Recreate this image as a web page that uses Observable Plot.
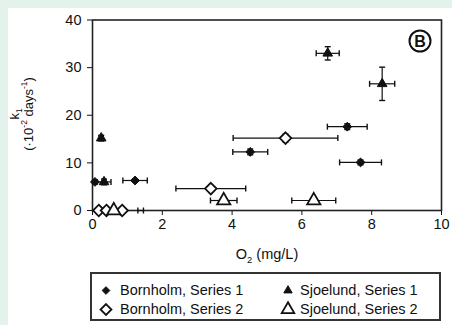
<!DOCTYPE html>
<html>
<head>
<meta charset="utf-8">
<script src="https://cdn.jsdelivr.net/npm/d3@7"></script>
<script src="https://cdn.jsdelivr.net/npm/@observablehq/plot@0.6"></script>
<style>
  body { margin:0; width:452px; height:325px; overflow:hidden; background:#e3f2ea; position:relative;
         font-family:"Liberation Sans", Arial, sans-serif; color:#111; }
  #panel { position:absolute; left:8px; top:8px; right:0; bottom:0; background:#fff; }
  #chart { position:absolute; left:0; top:0; }
  .ylab { position:absolute; white-space:nowrap; transform:translate(-50%,-50%) rotate(-90deg); font-size:13px; line-height:1; }
  #xlab { position:absolute; left:267px; top:254px; transform:translate(-50%,-50%); font-size:14.5px; white-space:nowrap; }
  sub, sup { font-size:65%; line-height:0; }
  #badge { position:absolute; left:420px; top:40.5px; width:19px; height:19px; border:2px solid #111; border-radius:50%;
           transform:translate(-50%,-50%); font-weight:bold; font-size:16px; text-align:center; line-height:19px; }
  #legend { position:absolute; left:90px; top:272px; width:347px; height:45px; border:2px solid #333; background:#fff; font-size:14.5px; }
  .li { position:absolute; display:flex; align-items:center; white-space:nowrap; }
  .li svg { overflow:visible; }
</style>
</head>
<body>
<div id="panel"></div>
<div id="chart"></div>
<div class="ylab" style="left:14px;top:114px">k<sub>1</sub></div>
<div class="ylab" style="left:28px;top:114px">(·10<sup>-2</sup> days<sup>-1</sup>)</div>
<div id="xlab">O<sub>2</sub> (mg/L)</div>
<div id="badge">B</div>
<div id="legend"></div>
<script>
// ---- data: [O2 (mg/L), k1, x error, y error] ----
const seriesNames = ["Bornholm, Series 1", "Bornholm, Series 2", "Sjoelund, Series 1", "Sjoelund, Series 2"];
const bornholm1 = [[0.07, 6.0, 0.03, 0.3], [1.22, 6.3, 0.35, 0.3], [4.52, 12.3, 0.5, 0.6], [7.3, 17.6, 0.57, 0.6], [7.68, 10.1, 0.6, 0.5]];
const bornholm2 = [[0.18, 0, 0, 0], [0.40, 0, 0, 0], [0.85, 0, 0, 0], [3.39, 4.6, 1.0, 0.4], [5.53, 15.2, 1.5, 0.8]];
const sjoelund1 = [[0.25, 15.2, 0.06, 0.6], [0.33, 6.0, 0.2, 0.6], [6.74, 33.0, 0.33, 1.4], [8.3, 26.6, 0.36, 3.5]];
const sjoelund2 = [[0.61, 0, 0, 0], [3.76, 2.1, 0.38, 0.3], [6.34, 2.1, 0.63, 0.3]];
const errorOnly = [[1.38, 0, 0.08, 0]];
const xTicks = [0, 2, 4, 6, 8, 10];
const yTicks = [0, 10, 20, 30, 40];

const toRows = (arr, s) => arr.map(([x, y, xe, ye]) => ({x, y, xe, ye, s}));
const rows = [
  ...toRows(bornholm1, seriesNames[0]), ...toRows(bornholm2, seriesNames[1]),
  ...toRows(sjoelund1, seriesNames[2]), ...toRows(sjoelund2, seriesNames[3]),
  ...toRows(errorOnly, "none")
];
const xErr = rows.filter(d => d.xe > 0);
const yErr = rows.filter(d => d.ye > 0);
const xCaps = xErr.flatMap(d => [{x: d.x - d.xe, y: d.y}, {x: d.x + d.xe, y: d.y}]);
const yCaps = yErr.flatMap(d => [{x: d.x, y: d.y - d.ye}, {x: d.x, y: d.y + d.ye}]);

const vcap = {draw(ctx, size) { const r = Math.sqrt(size / Math.PI); ctx.moveTo(0, -r); ctx.lineTo(0, r); }};
const hcap = {draw(ctx, size) { const r = Math.sqrt(size / Math.PI); ctx.moveTo(-r, 0); ctx.lineTo(r, 0); }};

const styles = {
  [seriesNames[0]]: {symbol: "diamond2", r: 4, fill: "#111", stroke: "#111", strokeWidth: 1},
  [seriesNames[1]]: {symbol: "diamond2", r: 5.2, fill: "#fff", stroke: "#111", strokeWidth: 1.8},
  [seriesNames[2]]: {symbol: "triangle2", r: 4.6, fill: "#111", stroke: "#111", strokeWidth: 1},
  [seriesNames[3]]: {symbol: "triangle2", r: 6.3, fill: "#fff", stroke: "#111", strokeWidth: 1.8}
};

const chart = Plot.plot({
  width: 452, height: 268,
  marginLeft: 92, marginRight: 11, marginTop: 19.5, marginBottom: 58,
  style: {background: "transparent", fontSize: "14.5px", fontFamily: "'Liberation Sans', Arial, sans-serif", color: "#111"},
  x: {domain: [0, 10], ticks: xTicks, tickSize: 5, tickPadding: 3, label: null},
  y: {domain: [0, 40], ticks: yTicks, tickSize: 5, tickPadding: 6, label: null},
  marks: [
    Plot.frame({stroke: "#222", strokeWidth: 1.6}),
    Plot.link(xErr, {x1: d => d.x - d.xe, x2: d => d.x + d.xe, y1: "y", y2: "y", stroke: "#111", strokeWidth: 1.2}),
    Plot.dot(xCaps, {x: "x", y: "y", r: 3, symbol: vcap, fill: "none", stroke: "#111", strokeWidth: 1.4}),
    Plot.link(yErr, {x1: "x", x2: "x", y1: d => d.y - d.ye, y2: d => d.y + d.ye, stroke: "#111", strokeWidth: 1.2}),
    Plot.dot(yCaps, {x: "x", y: "y", r: 3, symbol: hcap, fill: "none", stroke: "#111", strokeWidth: 1.4}),
    ...seriesNames.map(n => Plot.dot(rows.filter(d => d.s === n), {x: "x", y: "y", ...styles[n]}))
  ]
});
document.getElementById("chart").appendChild(chart);

// legend
const legend = document.getElementById("legend");
const pos = [[0, 0], [0, 1], [1, 0], [1, 1]];
const symMap = {diamond2: d3.symbolDiamond2, triangle2: d3.symbolTriangle2};
seriesNames.forEach((n, i) => {
  const st = styles[n];
  const [c, r] = pos[i];
  const item = document.createElement("div");
  item.className = "li";
  item.style.left = (c === 0 ? 6 : 188) + "px";
  item.style.top = (r === 0 ? 8 : 26.5) + "px";
  item.style.height = "16px";
  const svg = d3.create("svg").attr("width", 16).attr("height", 16).style("margin-right", c === 0 ? "6px" : "4px");
  svg.append("path")
    .attr("transform", "translate(8,8.5)")
    .attr("d", d3.symbol(symMap[st.symbol], st.r * st.r * Math.PI * (st.fill === "#fff" ? 0.9 : 0.75))())
    .attr("fill", st.fill).attr("stroke", st.stroke).attr("stroke-width", st.strokeWidth);
  item.appendChild(svg.node());
  const t = document.createElement("span");
  t.textContent = n;
  item.appendChild(t);
  legend.appendChild(item);
});
</script>
</body>
</html>
